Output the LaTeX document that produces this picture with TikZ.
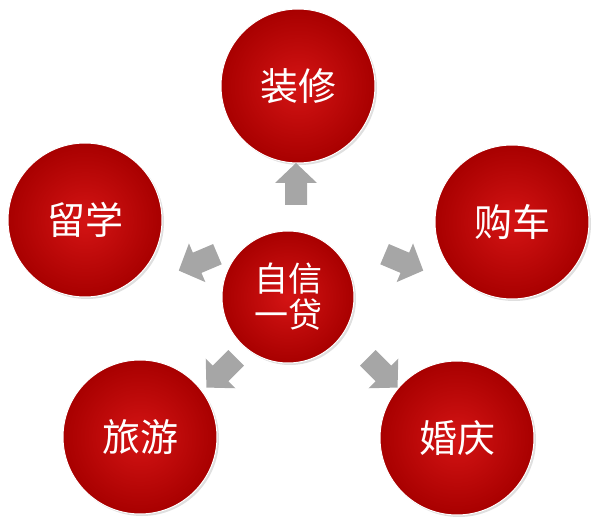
\documentclass[tikz,border=0pt]{standalone}
\usepackage{fontspec}
\setmainfont{Noto Sans CJK SC}
\usetikzlibrary{shadows}
\definecolor{cin}{HTML}{D41414}
\definecolor{cout}{HTML}{A80000}
\definecolor{agray}{HTML}{A6A6A6}
\begin{document}
\begin{tikzpicture}[x=1pt,y=-1pt,
  big/.style={circle,minimum size=154pt,inner sep=0pt,inner color=cin,outer color=cout,
    draw=white,line width=1pt,text=white,font=\fontsize{38pt}{44pt}\selectfont,drop shadow={opacity=0.25,shadow xshift=2pt,shadow yshift=-2pt}},
  mid/.style={big,minimum size=132pt,font=\fontsize{34pt}{40pt}\selectfont,align=center}]
\useasboundingbox (0,0) rectangle (603,529);
\tikzset{blk/.pic={\fill[agray] (-20,-11) -- (2,-11) -- (2,-21) -- (22,0) -- (2,21) -- (2,11) -- (-20,11) -- cycle;}}
\node[mid] (c) at (288,297) {自信\\[-4pt]一贷};
\node[big] (a) at (298,86) {装修};
\node[big] (b) at (85,220) {留学};
\node[big] (d) at (512,222) {购车};
\node[big] (e) at (140,437) {旅游};
\node[big] (f) at (457,438) {婚庆};
\coordinate (r1) at (296,185);
\coordinate (r2) at (199,262);
\coordinate (r3) at (403,262);
\coordinate (r4) at (222,372);
\coordinate (r5) at (382,372);
\pic[rotate=90] at (r1) {blk};
\pic[rotate=-157] at (r2) {blk};
\pic[rotate=-23] at (r3) {blk};
\pic[rotate=-135] at (r4) {blk};
\pic[rotate=-45] at (r5) {blk};
\end{tikzpicture}
\end{document}
